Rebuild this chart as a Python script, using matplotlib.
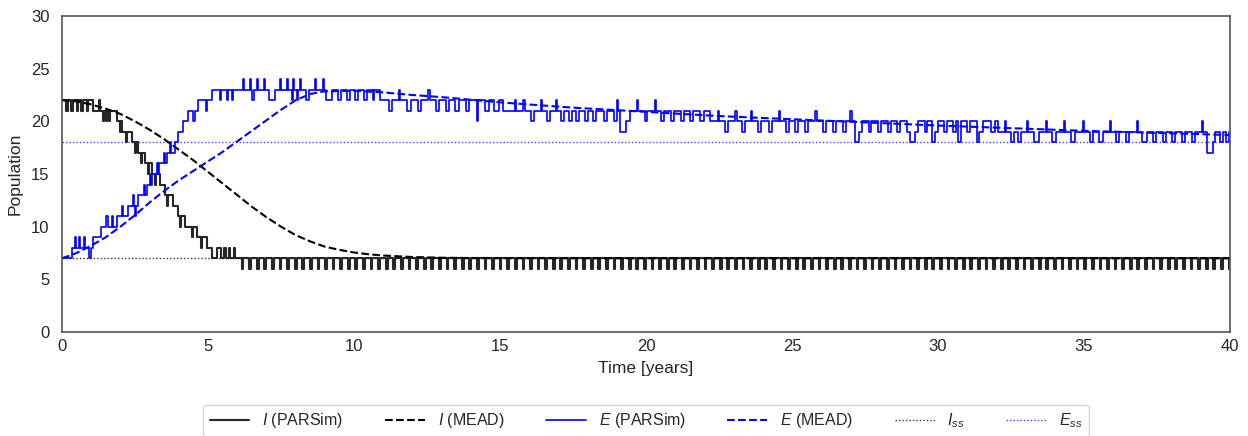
import numpy as np
import matplotlib
matplotlib.use('Agg')
import matplotlib.pyplot as plt
import seaborn as sns

# steady states
I_ss = 7
E_ss = 18

# I (PARSim): change times and new values (before the flat part)
I_sim_t = [0.00, 0.15, 0.20, 0.32, 0.37, 0.50, 0.55, 0.65, 0.72, 0.85, 0.90, 1.07, 1.25, 1.29,
           1.40, 1.44, 1.50, 1.54, 1.62, 1.66, 1.87, 1.98, 2.02, 2.04, 2.20, 2.24, 2.39, 2.50,
           2.53, 2.61, 2.70, 2.74, 2.84, 2.95, 2.99, 3.07, 3.20, 3.23, 3.36, 3.53, 3.60, 3.64,
           3.81, 3.98, 4.05, 4.08, 4.21, 4.45, 4.49, 4.61, 4.75, 4.79, 4.95, 5.12, 5.30, 5.45,
           5.55, 5.60, 5.72, 5.76, 5.88, 5.92]
I_sim_v = [22, 21, 22, 21, 22, 21, 22, 21, 22, 21, 22, 21, 22, 21,
           20, 21, 20, 21, 20, 21, 20, 19, 20, 19, 18, 19, 18, 17,
           18, 17, 16, 17, 16, 15, 16, 15, 14, 15, 14, 13, 12, 13,
           12, 11, 10, 11, 10, 9, 10, 9, 8, 9, 8, 7, 8, 7,
           8, 7, 8, 7, 8, 7]
# afterwards I sits at 7 and drops briefly to 6 at these times
I_dip_t = [6.15, 6.41, 6.67, 6.93, 7.19, 7.45, 7.71, 7.97, 8.23, 8.49, 8.75, 9.01, 9.27, 9.53,
           9.79, 10.05, 10.31, 10.57, 10.83, 11.09, 11.35, 11.61, 11.87, 12.13, 12.39, 12.65,
           12.91, 13.17, 13.43, 13.69, 13.95, 14.21, 14.47, 14.73, 14.99, 15.25, 15.51, 15.77,
           16.03, 16.29, 16.55, 16.81, 17.07, 17.33, 17.59, 17.85, 18.11, 18.37, 18.63, 18.89,
           19.15, 19.41, 19.67, 19.93, 20.19, 20.45, 20.71, 20.97, 21.23, 21.49, 21.75, 22.01,
           22.27, 22.53, 22.79, 23.05, 23.31, 23.57, 23.83, 24.09, 24.35, 24.61, 24.87, 25.13,
           25.39, 25.65, 25.91, 26.17, 26.43, 26.69, 26.95, 27.21, 27.47, 27.73, 27.99, 28.25,
           28.51, 28.77, 29.03, 29.29, 29.55, 29.81, 30.07, 30.33, 30.59, 30.85, 31.11, 31.37,
           31.63, 31.89, 32.15, 32.41, 32.67, 32.93, 33.19, 33.45, 33.71, 33.97, 34.23, 34.49,
           34.75, 35.01, 35.27, 35.53, 35.79, 36.05, 36.31, 36.57, 36.83, 37.09, 37.35, 37.61,
           37.87, 38.13, 38.39, 38.65, 38.91, 39.17, 39.43, 39.69, 39.95]
I_dip_len = 0.06

# E (PARSim): change times and new values
E_sim_t = [0.00, 0.33, 0.43, 0.48, 0.58, 0.63, 0.76, 0.80, 0.93, 0.98, 1.07, 1.35, 1.52, 1.56,
           1.70, 1.74, 1.87, 2.05, 2.09, 2.27, 2.42, 2.46, 2.50, 2.55, 2.61, 2.80, 2.84, 2.90,
           3.00, 3.03, 3.08, 3.24, 3.28, 3.33, 3.50, 3.54, 3.58, 3.70, 3.73, 3.87, 3.98, 4.15,
           4.33, 4.50, 4.54, 4.67, 4.93, 4.98, 5.13,
           5.40, 5.45, 5.65, 5.70, 5.82, 5.86, 6.20, 6.24, 6.44, 6.48, 6.52, 6.56, 6.68, 6.72,
           6.90, 6.94, 7.10, 7.30, 7.47, 7.51, 7.70, 7.74, 7.86, 7.90, 7.94, 8.05, 8.09, 8.15,
           8.19, 8.35, 8.45, 8.66, 8.70, 8.94, 8.98,
           9.05, 9.25, 9.45, 9.55, 9.75, 9.85, 10.05, 10.15, 10.35, 10.45, 10.65, 10.70, 10.90,
           11.20, 11.30, 11.55, 11.59, 11.80, 11.95, 12.20, 12.30, 12.55, 12.59, 12.80, 12.90,
           13.15, 13.25, 13.45, 13.60, 13.85, 13.95, 14.20, 14.26, 14.50, 14.62, 14.80, 14.95,
           15.10, 15.50, 15.54, 15.80, 15.84, 16.05, 16.15, 16.40, 16.44, 16.60, 16.70, 16.90,
           16.94, 17.10, 17.20, 17.35, 17.45, 17.60, 17.70, 17.90, 18.00, 18.20, 18.30, 18.55,
           18.65, 18.90, 19.00, 19.05, 19.10, 19.30, 19.45, 19.70, 19.74, 19.95, 20.05, 20.30,
           20.34, 20.50, 20.60, 20.85, 20.95, 21.20, 21.30, 21.50, 21.60, 21.85, 22.00, 22.20,
           22.45, 22.49, 22.70, 22.80, 23.05, 23.10, 23.30, 23.40, 23.60, 23.64, 23.85, 23.95,
           24.20, 24.30, 24.55, 24.59, 24.80, 24.90, 25.10, 25.20, 25.45, 25.55, 25.80, 25.84,
           26.05, 26.15, 26.40, 26.50, 26.75, 26.85, 27.00, 27.04, 27.15, 27.30, 27.40, 27.65,
           27.72, 27.95, 28.05, 28.30, 28.38, 28.60, 28.70, 28.95, 29.05, 29.20, 29.30, 29.55,
           29.62, 29.80, 29.88, 30.00, 30.20, 30.30, 30.50, 30.60, 30.70, 30.80, 31.00, 31.10,
           31.35, 31.42, 31.55, 31.80, 31.95, 32.05,
           32.30, 32.34, 32.50, 32.60, 32.75, 32.85, 33.05, 33.09, 33.30, 33.45, 33.70, 33.74,
           33.90, 34.05, 34.30, 34.34, 34.55, 34.70, 34.95, 34.99, 35.20, 35.30, 35.50, 35.65,
           35.90, 35.94, 36.10, 36.20, 36.45, 36.55, 36.80, 36.84, 37.00, 37.15, 37.35, 37.45,
           37.70, 37.80, 38.00, 38.10, 38.35, 38.45, 38.70, 38.80, 39.05, 39.09, 39.20, 39.40,
           39.50, 39.65, 39.75, 39.85, 39.95, 40.00]
E_sim_v = [7, 8, 9, 8, 9, 8, 9, 8, 7, 8, 9, 10, 11, 10,
           11, 10, 11, 12, 11, 12, 13, 12, 11, 12, 13, 14, 13, 14,
           15, 14, 15, 16, 15, 16, 17, 16, 17, 18, 17, 18, 19, 20,
           21, 20, 21, 22, 21, 22, 23,
           22, 23, 22, 23, 22, 23, 24, 23, 24, 23, 22, 23, 24, 23,
           24, 23, 22, 23, 24, 23, 24, 23, 22, 24, 23, 22, 23, 24,
           23, 22, 23, 24, 23, 24, 23,
           22, 23, 22, 23, 22, 23, 22, 23, 22, 23, 22, 23, 22,
           21, 22, 23, 22, 21, 22, 21, 22, 23, 22, 21, 22,
           21, 22, 21, 22, 21, 22, 20, 22, 21, 22, 21, 22,
           21, 22, 21, 22, 21, 20, 21, 22, 21, 20, 21, 22,
           21, 20, 21, 20, 21, 20, 21, 20, 21, 20, 21, 20,
           21, 20, 22, 21, 19, 20, 21, 22, 21, 20, 21, 22,
           21, 20, 21, 20, 21, 20, 21, 20, 21, 20, 21, 20,
           21, 20, 19, 20, 21, 20, 19, 20, 21, 20, 19, 20,
           19, 20, 21, 20, 19, 20, 19, 20, 19, 20, 21, 20,
           19, 20, 19, 20, 19, 20, 21, 20, 18, 19, 20, 19,
           20, 19, 20, 19, 20, 19, 20, 19, 18, 19, 20, 19,
           20, 18, 19, 20, 19, 20, 19, 20, 18, 20, 19, 20,
           18, 19, 20, 19, 20, 19,
           20, 19, 18, 19, 18, 19, 20, 19, 18, 19, 20, 19,
           18, 19, 20, 19, 18, 19, 20, 19, 18, 19, 18, 19,
           20, 19, 18, 19, 18, 19, 20, 19, 18, 19, 18, 19,
           18, 19, 18, 19, 18, 19, 18, 19, 20, 19, 17, 18,
           19, 18, 19, 18, 19, 19]

# MEAD curves
I_mead_t = [0, 0.5, 1, 1.5, 2, 2.5, 3, 3.5, 4, 4.5, 5, 5.5, 6, 6.5, 7, 7.5, 8, 8.5, 9,
            9.5, 10, 10.5, 11, 12, 13, 14, 15, 20, 25, 30, 35, 40]
I_mead = [22.0, 21.9, 21.6, 21.2, 20.7, 20.0, 19.2, 18.3, 17.3, 16.3, 15.2, 14.1, 13.0,
          11.9, 10.9, 10.0, 9.2, 8.6, 8.1, 7.8, 7.55, 7.38, 7.26, 7.12, 7.05, 7.02, 7.01,
          7.0, 7.0, 7.0, 7.0, 7.0]
E_mead_t = [0, 0.5, 1, 1.5, 2, 2.5, 3, 3.5, 4, 4.5, 5, 5.5, 6, 6.5, 7, 7.5, 8, 8.5, 9,
            10, 11, 12, 13, 14, 15, 17.5, 20, 22.5, 25, 27.5, 30, 32.5, 35, 37.5, 40]
E_mead = [7.0, 7.5, 8.2, 9.0, 10.0, 11.1, 12.3, 13.4, 14.4, 15.3, 16.2, 17.1, 18.1, 19.1,
          20.1, 21.1, 22.0, 22.6, 22.85, 22.9, 22.75, 22.5, 22.3, 22.05, 21.8, 21.3, 20.9,
          20.5, 20.2, 19.9, 19.6, 19.35, 19.1, 18.9, 18.7]

# build the full I step series
I_t = list(I_sim_t)
I_v = list(I_sim_v)
for t in I_dip_t:
    I_t += [t, t + I_dip_len]
    I_v += [6, 7]
I_t.append(40.0)
I_v.append(7)

sns.set_style('white')
plt.rcParams['font.family'] = ['Liberation Sans', 'DejaVu Sans']
plt.rcParams['mathtext.fontset'] = 'custom'
plt.rcParams['mathtext.rm'] = 'Liberation Sans'
plt.rcParams['mathtext.it'] = 'Liberation Sans:italic'

fig = plt.figure(figsize=(12.48, 4.36), dpi=100)
ax = fig.add_axes([0.0497, 0.2385, 0.9359, 0.7248])

ax.step(I_t, I_v, where='post', color='#262626', lw=1.5, label='$I$ (PARSim)')
ax.plot(I_mead_t, I_mead, '--', color='black', lw=1.5, label='$I$ (MEAD)')
ax.step(E_sim_t, E_sim_v, where='post', color='blue', lw=1.2, label='$E$ (PARSim)')
ax.plot(E_mead_t, E_mead, '--', color='blue', lw=1.5, label='$E$ (MEAD)')
ax.axhline(I_ss, color='#333333', ls=(0, (1, 1.5)), lw=1, zorder=0, label='$I_{ss}$')
ax.axhline(E_ss, color='#4444ff', ls=(0, (1, 1.5)), lw=1, zorder=0, label='$E_{ss}$')

ax.set_xlim(0, 40)
ax.set_ylim(0, 30)
ax.set_xticks(range(0, 41, 5))
ax.set_yticks(range(0, 31, 5))
ax.tick_params(length=0, labelsize=12, colors='#262626')
ax.tick_params(axis='x', pad=5)
ax.tick_params(axis='y', pad=9)
ax.set_xlabel('Time [years]', fontsize=12.5, color='#262626', labelpad=5)
ax.set_ylabel('Population', fontsize=12.5, color='#262626', labelpad=6)
for s in ax.spines.values():
    s.set_color('#555555')
    s.set_linewidth(1.2)

ax.legend(loc='upper center', bbox_to_anchor=(0.5, -0.205), ncol=6, fontsize=11.5,
          frameon=True, edgecolor='#cccccc', handlelength=2.5, columnspacing=2.6)

fig.savefig('out.png', dpi=100)
